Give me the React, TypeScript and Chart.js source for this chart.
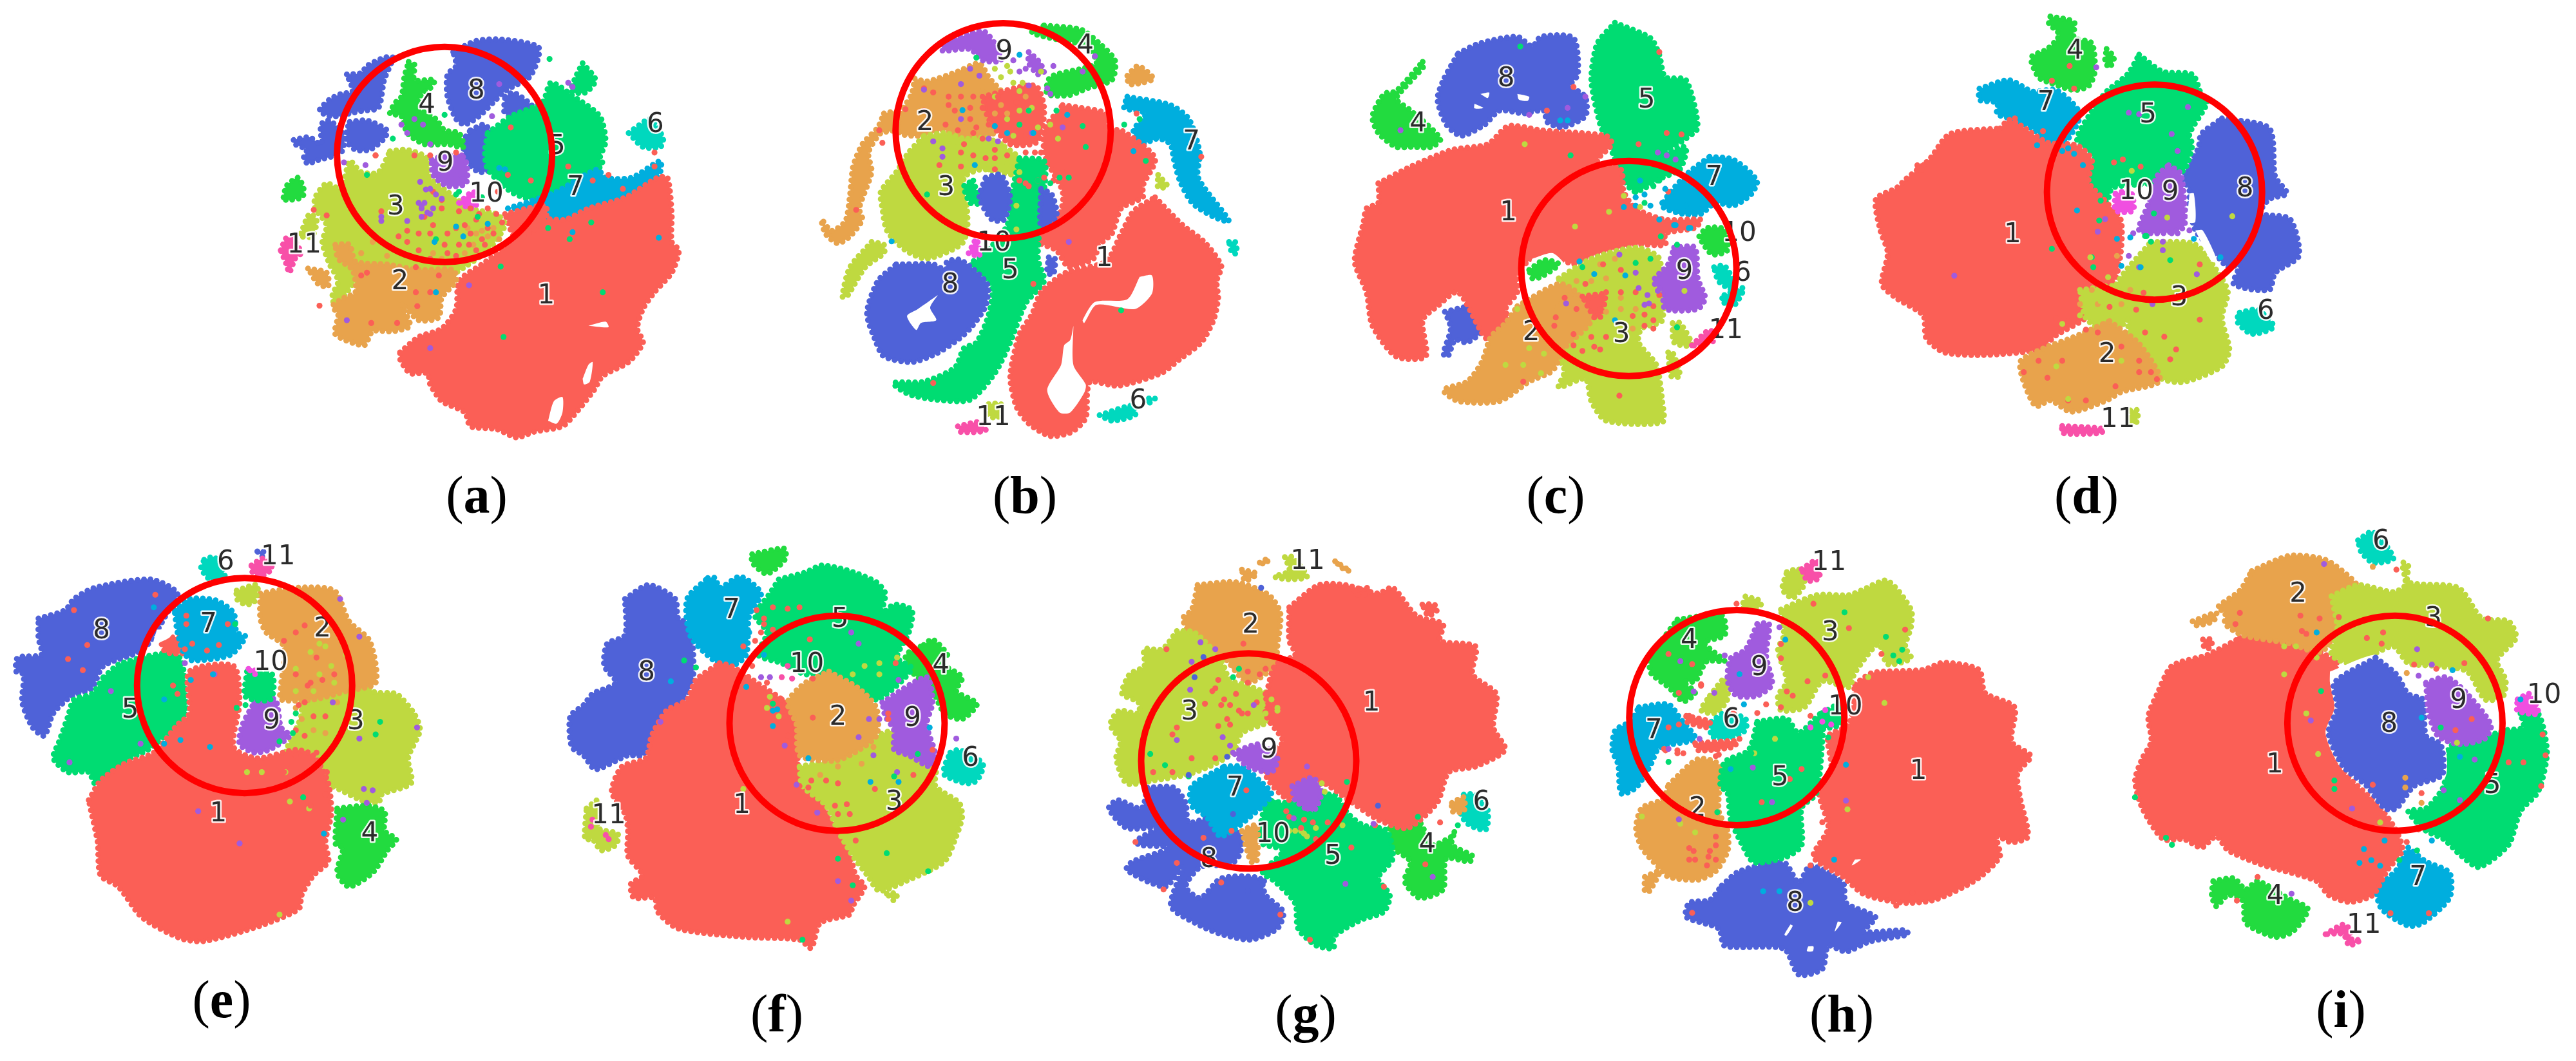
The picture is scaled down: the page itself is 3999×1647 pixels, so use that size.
import React, { useEffect, useRef } from "react";
import { Chart, registerables } from "chart.js";
Chart.register(...registerables);

// Cluster colours: index = cluster id, 0 = white gap
const clusterColors = ["#ffffff", "#FB5F56", "#E8A34C", "#BFD940", "#22DB3F", "#00DC72", "#00D8BE", "#00AEDE", "#4F62D8", "#A05BDE", "#F04FE0", "#F850A8"];
const captions = ["a", "b", "c", "d", "e", "f", "g", "h", "i"];

// ---------- panel a
const a1 = [495,1215,560,1160,640,1130,690,1060,700,960,780,900,900,810,930,780,1000,740,1070,740,1150,700,1280,660,1390,590,1425,590,1440,720,1440,820,1465,850,1440,930,1380,1000,1340,1060,1320,1130,1340,1180,1290,1250,1200,1300,1170,1350,1100,1440,1060,1480,960,1500,900,1520,830,1490,740,1480,720,1430,640,1390,600,1330,590,1290,530,1290,495,1240];
const a1b = [860,720,1000,690,1000,740,900,810];
const aHole1 = [1130,1310,1150,1260,1165,1250,1155,1320,1135,1330];
const aHole2 = [1010,1460,1030,1390,1060,1375,1060,1430,1040,1470];
const aHole3 = [1150,1120,1210,1105,1220,1125];
const a5 = [800,430,880,370,990,320,1020,250,1100,300,1190,370,1210,460,1190,520,1200,540,1170,570,1060,650,960,670,880,640,800,560,790,500];
const a5b = [1130,180,1175,240,1140,285,1090,280,1110,220];
const a7 = [870,700,960,670,1040,640,1180,560,1210,590,1300,590,1400,530,1400,570,1370,600,1290,650,1150,700,1080,740,1000,735,980,720,1000,680,900,700];
const a8a = [680,140,760,100,850,95,975,120,975,165,945,230,860,280,820,320,770,370,720,400,690,380,660,300,660,220,690,190];
const a8b = [860,300,890,285,960,340,930,370,860,360];
const a8c = [740,420,790,400,830,470,830,550,770,570,720,520,720,450];
const a8d = [310,220,360,215,380,190,440,160,470,160,440,240,420,340,370,350,320,360,280,370,250,370,215,350,250,310,290,290,330,280];
const a8e = [320,390,380,385,450,420,440,450,390,490,340,490,310,460,310,420];
const a8f = [125,455,180,445,220,470,220,400,250,385,300,440,290,500,200,530,175,540,160,520,170,490,130,470];
const a4 = [525,175,545,185,545,240,615,240,600,270,570,290,560,340,620,380,650,420,700,430,715,480,660,470,580,470,520,430,500,370,460,360,480,320,500,300,510,230];
const a4b = [90,660,100,620,140,590,160,630,155,660,100,670];
const a3 = [460,495,520,490,590,520,600,590,660,640,740,700,830,720,860,760,800,850,690,930,640,960,500,930,380,920,340,960,310,1000,270,1050,260,1010,280,960,250,900,225,820,240,760,200,700,200,660,240,610,290,630,320,530,360,570,420,570];
const a3b = [150,790,180,720,205,740,190,800,150,800];
const a2 = [270,830,320,830,340,890,450,900,560,920,680,920,690,960,640,1020,630,1090,560,1100,500,1040,530,1120,470,1140,400,1140,370,1190,270,1150,280,1080,260,1050,300,1020,340,1000,330,920,280,880];
const a2b = [175,915,240,930,245,980,210,970];
const a6 = [1290,430,1350,385,1370,380,1410,450,1400,480,1340,480];
const a9 = [605,525,660,510,720,520,725,610,660,620,610,580];
const a10 = [700,680,750,640,760,690,740,700];
const a11 = [80,850,100,805,125,810,150,860,130,880,110,930,100,900];
const aRed = [545,510,600,510,690,500,610,640,640,670,700,710,720,760,760,740,800,770,740,790,780,810,700,830,650,830,600,790,560,790,640,700,560,850,520,820,430,710,360,940,380,930,550,910,630,940,550,1000,600,1000,555,1050,485,1110,395,1110,215,1048,240,725,195,705,880,410,870,580,950,600,1080,550,1165,600,1220,580,1270,630,1380,500,1380,550,835,640,760,850,690,870,410,510,740,700,770,720,800,700,830,720,850,750,690,770,660,790,820,790,790,830,735,830,660,860,600,880,520,780,490,800,580,730,610,760];
const aOrange = [730,770,760,790,800,800,820,770,840,810,780,780,750,830,720,860,640,880,610,860,570,880,480,850,400,820,450,870,360,860,410,510];
const aPurple = [500,400,520,430,545,380,575,400,600,470,710,510,690,580,650,600,565,605,585,632,640,665,570,700,610,700,430,730,520,745,1080,250,1095,265,840,255,815,370,375,545,300,535,310,1100,735,975,600,1200,710,595,570,690,590,715,430,745,560,680,580,680,600,720,570,730,600,630,620,650];
const aGreen = [780,660,690,650,700,640,765,730,620,810,845,908,1200,1000,855,1160,1160,750,1010,770,1085,810,650,365,1015,165,470,450,380,580];
const aBlue = [690,765,715,800,800,755,620,1000,1395,805,1095,785,615,820,840,555,860,560];
const aLabels: [string, number, number][] = [["1",1003,1015],["2",495,965],["3",480,697],["4",588,333],["5",1040,480],["6",1383,402],["7",1105,627],["8",760,282],["9",652,540],["10",795,650],["11",162,832]];

// ---------- panel b
const b1 = [940,330,1000,340,1080,360,1085,420,1130,420,1240,520,1200,620,1200,660,1130,700,1100,790,1060,830,1040,880,960,910,920,850,860,820,860,780,930,720,940,640,885,520,880,420];
const b1b = [680,300,850,260,880,340,860,460,770,470,700,380];
const b1c = [1240,660,1330,760,1400,820,1455,905,1440,960,1445,1020,1430,1100,1390,1180,1320,1240,1260,1290,1120,1335,1030,1320,1020,1360,1015,1450,970,1500,900,1515,830,1470,790,1410,770,1300,800,1150,840,1080,870,1000,950,930,1080,890,1130,790,1170,710];
const bHole1 = [1190,945,1230,940,1230,1005,1175,1060,1050,1045,1010,1110,1005,1100,1045,1035,1150,1025];
const bHole2 = [975,1120,975,1260,1015,1330,1010,1360,965,1430,930,1430,890,1350,935,1260,945,1190,965,1170];
const b2 = [460,235,500,245,600,210,670,180,700,230,770,330,700,450,640,470,560,420,490,440,410,430,415,360,450,290];
const b2b = [360,360,400,355,390,420,350,430,310,500,320,570,280,700,290,740,250,800,210,825,170,790,158,740,190,780,235,745,250,650,260,550,290,470,340,410];
const b2c = [1150,225,1185,190,1235,235,1200,250,1155,255];
const b3 = [490,440,560,430,620,450,700,450,800,520,800,580,680,560,620,590,630,700,630,780,610,830,500,880,430,850,370,780,355,700,350,640,400,570,440,500];
const b3b = [320,820,360,830,360,860,300,910,240,1015,225,1015,250,910];
const b3c = [1250,580,1280,620,1250,625];
const b4 = [880,45,1000,60,1060,110,1110,170,1100,240,1020,270,960,295,890,290,900,230,1000,200,1050,180,1020,120,950,100,900,90,840,70];
const b5 = [800,520,880,530,880,640,870,720,860,880,880,960,820,1040,770,1180,720,1290,640,1385,530,1385,440,1365,390,1325,490,1320,590,1270,620,1200,660,1180,700,1080,710,980,640,900,680,870,760,760,780,620];
const b5b = [650,600,670,680,640,680,620,620];
const b6 = [1060,1440,1170,1405,1175,1440,1100,1460];
const b6b = [1220,1380,1240,1380,1215,1400];
const b6c = [1480,820,1500,820,1505,860,1490,860];
const b7 = [1150,300,1290,330,1350,380,1385,500,1380,590,1480,745,1430,730,1360,680,1320,600,1300,520,1290,470,1250,450,1190,470,1170,420,1210,360,1140,340];
const b8 = [400,900,520,900,560,920,565,890,610,885,695,970,690,1050,640,1130,600,1170,530,1220,450,1250,360,1230,335,1180,305,1075,340,960];
const bHole8 = [535,1010,510,1055,530,1100,480,1110,465,1135,435,1085,470,1060];
const b8b = [690,590,740,580,770,660,750,740,710,740,670,660];
const b8c = [870,630,905,650,920,730,870,765];
const b8d = [895,875,915,880,910,935,890,930];
const b9 = [550,110,680,65,720,110,740,170,680,170,640,130,550,135];
const b9b = [830,140,860,170,880,210,860,220,830,180];
const b10 = [635,860,660,810,670,870];
const b11 = [600,1480,670,1465,690,1495,610,1500];
const b3d = [700,1400,740,1400,730,1450,700,1440];
const bRed = [490,270,520,285,570,300,570,330,660,410,620,470,720,490,770,470,820,440,850,500,540,545,610,550,720,520,490,350,430,345,345,420,355,465,270,705,520,1325,845,970,1210,500,1390,515,1090,350,1180,360,650,300,730,300,790,320,1020,480,940,570,880,590,820,610,610,300,640,340,680,340,700,400,640,380,600,420,680,450,650,430,560,400,590,350,870,500,820,500,760,510,720,560,800,600,830,620,860,600,910,600,610,500,650,510,690,520];
const bPurple = [490,275,610,255,670,225,700,450,730,460,550,485,520,460,550,515,860,180,800,210,910,190,1005,210,1045,155,960,820,610,380,840,430,940,410,900,290,640,200,700,160,780,170,820,200,830,260,890,270];
const bGreen = [660,160,830,350,1005,405,1015,480,1210,530,920,350,800,400,500,650,1130,1065,1190,380,1140,400,840,560,860,600,900,610,930,590,960,590,790,620];
const bBlue = [615,348,720,405,760,430,845,430,655,545,1170,495,385,818,800,150,955,365,1315,545];
const bYellow = [740,230,770,210,800,280,870,210,900,400,925,450,790,690,790,775,800,570,830,350,720,300,760,380,800,350,700,400,670,490,630,520,600,480,570,470,780,440,740,470,700,560,760,540,840,340,860,410,780,250,720,200,760,190,810,250];
const bOrange = [740,330,760,360,560,330,610,360,640,420,700,430,720,360,680,280,620,410,820,300];
const bLabels: [string, number, number][] = [["1",1075,880],["2",493,395],["3",562,628],["4",1013,120],["5",770,925],["6",1185,1390],["7",1358,463],["8",575,975],["9",750,140],["10",717,825],["11",715,1450]];

// ---------- panel c
const c1 = [130,610,240,550,380,490,500,470,570,405,680,420,900,440,920,470,870,530,950,560,960,640,1000,700,1100,740,1220,740,1200,770,1100,790,1100,830,1000,830,850,870,800,900,700,870,650,880,600,930,600,1000,560,1060,570,1100,500,1170,400,1000,330,1050,280,1100,290,1230,190,1230,110,1120,90,1000,50,890,80,750,90,700,130,680];
const cGap = [650,880,720,860,770,920,720,970,630,970];
const c4b = [640,920,690,885,740,900,680,945,650,950];
const c2 = [600,1050,740,970,800,1000,850,1100,760,1200,720,1280,640,1320,540,1390,400,1390,350,1350,430,1320,480,1250,510,1160,560,1110];
const c3 = [740,950,850,880,1000,840,1080,880,1090,1100,1020,1130,1010,1180,1070,1260,1090,1390,1090,1465,900,1460,850,1390,830,1310,740,1340,760,1280,720,1200,770,1100];
const c3b = [1110,1215,1125,1215,1150,1300,1120,1300];
const c1d = [820,1015,895,1010,880,1090,855,1080];
const c4 = [280,175,285,190,200,290,190,310,240,350,340,450,310,480,240,480,190,480,130,430,110,370,150,290,190,280];
const c5 = [930,35,1050,90,1080,150,1100,230,1170,240,1210,410,1170,450,1100,500,1170,480,1150,560,1090,590,1000,640,960,600,910,470,880,400,850,240,870,110];
const c7 = [1250,515,1330,525,1410,600,1390,650,1330,690,1270,680,1220,720,1160,720,1090,690,1170,580];
const c8 = [400,145,470,110,600,85,650,120,680,85,790,90,805,220,780,260,830,300,830,370,750,410,700,390,690,350,620,360,540,350,490,400,410,440,360,400,330,310,350,240];
const c8b = [355,1070,440,1050,500,1060,490,1130,430,1180,390,1170,365,1230,350,1220,375,1130];
const cHole1 = [475,290,505,285,500,305];
const cHole2 = [455,325,485,340,455,342];
const cHole3 = [600,290,640,300,635,315,605,310];
const c9 = [1130,840,1200,840,1210,950,1235,1020,1210,1060,1100,1060,1090,1000,1060,960,1110,900];
const c4c = [1215,800,1240,770,1300,775,1310,850,1260,865,1230,830];
const c6 = [1265,910,1300,905,1330,960,1325,990,1280,960];
const c6b = [1300,1010,1365,985,1330,1050,1290,1030];
const c11 = [1190,1190,1250,1135,1270,1170,1210,1190];
const c3c = [1125,1110,1150,1110,1190,1190,1130,1180];
const cRed = [850,1020,880,1060,860,1090,830,970,820,1210,860,1195,880,1205,725,1120,790,1190,1030,1080,1060,1100,990,1085,1090,800,1080,1010,950,920,890,900,1110,640,1180,600,1010,470,1105,430,1155,435,1080,140,620,1320,945,1370,700,350,790,265,760,1020,800,1060,730,1090,900,1000,950,1000,1000,1000,1060,1050,1060,1130,1030,1120,790,1150,850,1160,900,1160];
const cOrange = [880,900,930,880,900,950,850,960,950,1060,1000,1060,780,1010,800,960,750,1040,900,1070,950,1020,990,1130,700,1180,720,1050];
const cPurple = [1010,985,1040,1010,1030,1045,1075,995,1000,930,945,865,770,340,830,300,640,365,205,420,1135,525,1105,510,765,1040,1045,1040,1075,500];
const cGreen = [1000,895,1050,880,1085,800,1140,830,1140,1125,1020,600,1060,620,990,590,1000,640,780,510,820,910,610,120,980,560,1010,560,1050,600,1080,600,1030,680];
const cBlue = [965,940,810,890,860,935,1015,600,1100,630,1130,760,1080,740,1180,770,1000,690,960,695,1130,640,745,385,770,385,930,1100,1000,660,1030,650,1050,690,1090,680,1150,710,1170,690,1210,700,1135,760,1185,770];
const cYellow = [910,712,795,765,1015,695,960,655,625,470,1165,995,600,1060,650,1100,690,1220,640,1200,560,1260,620,1260,680,1290];
const cLabels: [string, number, number][] = [["1",570,718],["2",647,1147],["3",952,1153],["4",265,400],["5",1037,313],["6",1362,935],["7",1265,590],["8",562,238],["9",1165,928],["10",1350,790],["11",1305,1140]];

// ---------- panel d
const d1 = [490,430,520,400,560,420,650,480,750,490,800,540,790,620,840,680,900,760,880,960,800,1020,790,1090,680,1160,620,1210,430,1230,300,1220,240,1170,230,1090,140,1030,90,980,110,870,85,790,70,680,140,640,170,610,250,540,320,450];
const d1b = [210,560,235,560,220,580];
const d3 = [1000,830,1150,840,1240,960,1260,1010,1240,1100,1265,1210,1240,1270,1110,1325,1030,1310,930,1180,920,1100,880,990];
const d3b = [760,1000,900,990,930,1090,860,1150,780,1100];
const d2 = [860,1110,960,1190,1030,1320,900,1360,850,1390,730,1430,660,1390,610,1410,565,1310,560,1250,650,1200,730,1170];
const d4 = [660,35,740,55,740,110,800,130,810,230,790,280,740,295,660,270,620,250,595,180,650,150,690,100,655,60];
const d4b = [850,150,875,180,860,215,845,195];
const d5 = [960,170,1040,230,1140,240,1170,310,1190,340,1130,450,1140,490,1110,580,1060,560,1010,620,870,640,850,690,790,620,790,580,810,540,750,470,800,370,850,300,920,240];
const d6 = [1300,1080,1360,1070,1415,1130,1340,1155,1290,1110];
const d7 = [420,290,520,260,600,300,680,295,760,380,710,480,660,500,610,440,540,400,480,380,480,340,420,330];
const d8 = [1240,395,1400,430,1420,600,1460,660,1400,680,1370,730,1470,750,1500,880,1420,940,1400,1000,1280,980,1300,910,1260,920,1200,850,1150,790,1130,700,1130,650,1110,600,1160,500,1170,450];
const d9 = [1060,560,1100,590,1115,720,1110,780,1040,800,960,790,990,700,1020,600];
const d10 = [880,660,930,650,940,720,880,720];
const d11 = [700,1480,840,1490,830,1505,700,1505];
const d3c = [930,1425,955,1425,950,1470,930,1470];
const dGap = [1130,660,1145,660,1150,760,1125,760];
const dGap2 = [1150,790,1175,790,1225,900,1205,900];
const dRed = [725,210,665,262,740,290,540,395,635,440,875,550,905,540,965,565,700,1250,650,1310,570,1290,620,1250,780,1390,880,1340,980,1150,1045,1165,1085,1210,1065,1245,960,1290,1020,1315,1165,1105,1165,910,975,1010,800,960,860,1060,950,1070,1000,1040,720,1390,720,1110,680,1100,780,1140,820,1150,900,1200,960,1250,1000,1290];
const dOrange = [820,1050,860,1000,900,1050,760,1050,800,1000,840,1120,885,880,930,1000];
const dPurple = [815,215,1070,450,1090,510,1125,355,925,375,960,380,1040,860,925,880,1155,945,1005,1050,845,750,820,795,335,950,940,800,1040,830,1090,800,1130,790,1070,800,960,920];
const dGreen = [665,855,830,685,825,755,800,885,805,920,985,810,1065,895,1010,730,980,810,1000,830];
const dBlue = [750,720,885,820,930,815,900,915,965,920,615,490,700,510,1145,820,1235,885,720,500,740,520,770,560];
const dYellow = [935,580,1055,745,795,885,855,955,720,1385,1275,740,700,1120,760,1090,800,1060,830,1040,850,1090,900,1250,680,1270];
const dLabels: [string, number, number][] = [["1",532,808],["2",852,1230],["3",1095,1030],["4",743,160],["5",990,385],["6",1388,1077],["7",645,340],["8",1318,645],["9",1065,658],["10",950,655],["11",888,1458]];

// ---------- panel e
const e1 = [300,950,340,880,420,820,520,780,600,680,640,640,640,490,790,470,810,600,790,760,870,800,1000,770,1060,790,1110,890,1120,1000,1100,1100,1110,1170,1060,1220,1020,1290,1010,1340,880,1400,690,1455,610,1445,480,1370,400,1260,340,1220,330,1100,310,1000];
const e1b = [540,370,640,370,640,420,560,420];
const e3 = [1210,440,1260,560,1340,570,1400,640,1420,700,1380,800,1390,890,1290,930,1280,960,1220,950,1120,900,1000,880,960,800,1020,640,1000,500];
const e2 = [880,210,1000,190,1130,200,1180,310,1250,380,1270,530,1170,560,1060,590,950,590,950,540,960,400,900,350,880,300];
const e3b = [800,200,870,180,860,240,830,250,800,230];
const e4 = [1140,980,1240,970,1300,990,1300,1060,1340,1090,1310,1130,1260,1210,1180,1260,1140,1210,1160,1120,1135,1110];
const e5 = [350,510,410,460,600,430,630,630,600,680,500,770,420,810,350,860,320,890,300,850,230,850,180,800,200,740,230,650,250,590,310,570];
const e6 = [690,90,725,80,760,150,710,160,680,120];
const e7 = [590,270,640,230,730,235,790,280,800,350,830,365,780,430,650,450,620,420,600,350];
const e8 = [130,300,220,270,250,230,320,190,510,160,600,210,560,290,510,380,470,420,350,470,310,550,240,580,180,640,150,720,110,690,75,600,80,500,55,490,60,440,140,430,130,370];
const e9 = [860,600,930,590,950,690,980,720,910,770,860,780,810,750,820,680];
const e5b = [835,490,920,500,915,590,830,580];
const e10 = [840,480,870,490,860,500];
const e11 = [850,110,890,85,920,120,880,150,850,130];
const e8b = [870,60,890,60,890,80];
const eGap = [800,440,860,440,830,500,800,470];
const eGap2 = [530,340,590,340,570,370,520,390];
const eRed = [630,290,630,320,770,320,650,390,625,410,700,415,740,395,585,540,600,570,525,215,250,270,295,395,230,445,280,485,610,715,1000,350,1030,325,1070,440,1090,520,1040,540,960,380,1010,610,1030,720,1000,790,960,850,1105,850,1050,970,1100,930,1000,500,1050,530,1130,500,1060,650,1030,600,1100,650,1000,700,1070,780];
const eOrange = [1020,660,1060,700,1100,710,1140,600,1000,620];
const ePurple = [625,460,725,500,375,560,235,815,475,748,810,1105,670,990,1150,230,1215,365,1125,600,1215,730,1260,915,1230,910,1240,960,1160,1020,1410,690];
const eBlue = [645,520,720,500,555,748,610,735,710,760,555,590,1095,1070,520,260];
const eGreen = [795,320,1285,670,1270,715,1025,940,985,670,945,740,800,620,830,610,990,710,1000,640];
const eYellow = [885,850,980,955,1045,980,965,850,835,850,945,1360,1000,480,1050,420,1100,400,1080,500,1120,470,1170,430,1000,560,1060,560,1130,530,1080,390];
const eLabels: [string, number, number][] = [["1",738,1000],["2",1090,340],["3",1203,672],["4",1250,1072],["5",440,630],["6",763,100],["7",705,322],["8",343,347],["9",918,670],["10",915,458],["11",940,82]];

// ---------- panel f
const f1 = [560,460,600,470,700,540,780,600,820,700,830,850,900,950,960,1060,1000,1140,1020,1220,1050,1260,1010,1330,1000,1360,900,1390,870,1480,830,1450,640,1440,420,1410,350,1350,340,1300,270,1300,260,1250,300,1220,250,1150,250,1060,240,1000,195,920,230,830,310,800,330,720,380,630,450,590,480,520];
const f3 = [830,830,1000,790,1090,720,1180,700,1290,830,1290,900,1370,960,1380,1010,1360,1080,1320,1170,1190,1240,1100,1275,1060,1220,1010,1150,960,1060,920,970,840,900];
const f3b = [1125,1285,1160,1285,1150,1310];
const f2 = [930,490,1030,550,1090,620,1090,720,1000,790,940,810,830,790,820,680,790,600,850,530];
const f4 = [1250,395,1280,375,1330,430,1310,460,1380,510,1360,560,1430,605,1380,660,1320,640,1280,560,1200,480,1190,430];
const f4b = [670,70,780,50,780,90,720,140,670,100];
const f5 = [760,160,850,135,905,110,1000,130,1090,170,1120,210,1110,280,1150,250,1210,270,1200,350,1160,440,1210,480,1100,590,1060,580,1010,540,930,490,850,500,770,460,690,430,720,350,680,290,730,210];
const f6 = [1340,780,1370,770,1450,820,1430,880,1390,890,1320,860,1320,830];
const f7 = [520,155,545,155,560,190,630,150,700,210,660,290,650,430,600,470,540,450,460,360,450,230];
const f8 = [240,230,320,180,410,230,420,300,460,320,470,520,430,600,370,640,340,690,300,790,250,790,140,840,100,790,60,760,55,650,100,610,130,570,210,530,170,470,180,390,240,360];
const f9 = [1110,600,1260,510,1280,600,1260,680,1290,790,1270,830,1200,790,1150,770,1150,700,1120,650];
const f11 = [110,980,150,950,150,1050,215,1070,210,1110,160,1130,130,1090,105,1090];
const fRed = [740,260,685,270,710,320,640,400,790,265,830,260,865,375,875,515,875,655,1130,640,1130,660,770,590,780,650,860,905,950,970,990,965,1000,1000,1020,1095,1085,910,1215,860,1280,770,1155,460,960,1000,920,1010,670,470,720,530,790,720,830,900,870,880,920,880,960,890,850,950,710,300,740,340,700,350,680,380];
const fOrange = [960,830,1040,820,900,860,1080,760];
const fPurple = [700,510,730,510,1030,390,1005,350,1065,660,1100,660,1030,725,1080,790,1160,850,780,755,820,895,890,995,1005,1310,960,1240,360,670,1165,520,1360,730];
const fPink = [770,510,790,470,130,1020,185,1090,175,1075,125,1045,805,515];
const fBlue = [860,800,1070,885,1165,885,395,525,1270,690,650,545,740,630,755,625,740,685,660,350,710,430];
const fGreen = [1125,1140,1265,1205,960,1160,440,450,480,475,740,605,1150,865,1230,785,1010,1255,840,1450,1150,540,1180,500];
const fYellow = [730,580,720,620,760,650,1010,500,1100,460,1160,440,790,1385,640,910,1050,470,1100,500];
const fLabels: [string, number, number][] = [["1",635,972],["2",960,655],["3",1150,960],["4",1308,470],["5",967,305],["6",1408,802],["7",600,273],["8",313,495],["9",1212,660],["10",855,465],["11",185,1008]];

// ---------- panel g
const g1 = [700,260,800,180,890,180,1000,210,1050,190,1130,290,1220,320,1210,380,1330,400,1320,500,1400,570,1390,690,1430,770,1330,830,1240,850,1200,960,1100,1050,1000,1020,900,950,800,880,750,900,700,950,620,860,650,770,680,740,620,640,650,470,720,430,700,380];
const g1b = [1150,250,1190,250,1200,270,1170,290];
const g1c = [920,200,970,190,970,210,930,215];
const g2 = [390,180,520,170,630,215,670,280,660,400,650,470,560,530,480,440,370,360,340,300,370,270];
const g2b = [540,125,590,140,550,165];
const g2c = [600,100,630,85,620,105];
const g2d = [855,95,905,130,880,120];
const g3 = [320,345,380,350,470,450,500,520,560,540,680,600,630,670,540,710,510,780,430,830,350,860,240,880,150,890,115,800,130,740,95,680,125,630,190,640,190,600,135,570,160,500,210,470,210,410,270,410];
const g4 = [1040,1050,1140,1030,1180,1110,1250,1080,1260,1060,1250,1110,1320,1150,1310,1170,1230,1160,1220,1270,1140,1300,1090,1240,1110,1170,1050,1120];
const g5 = [620,950,700,960,850,930,900,1000,950,1040,1030,1060,1050,1160,1000,1230,1040,1290,1020,1350,940,1380,850,1440,850,1480,790,1470,730,1410,720,1320,650,1240,610,1210,680,1130,600,1100];
const g6 = [1290,930,1330,930,1370,980,1365,1055,1310,1040,1280,1000];
const g2e = [1250,960,1290,940,1290,990,1250,990];
const g8 = [220,905,310,905,350,960,360,1030,450,1010,540,1080,530,1150,500,1180,400,1190,350,1260,400,1300,470,1230,600,1230,620,1290,680,1350,660,1410,570,1450,470,1430,400,1400,300,1330,340,1190,280,1260,150,1200,170,1170,300,1120,190,1110,190,1090,250,1050,150,1050,90,980,120,950,200,980];
const g7 = [480,830,540,830,600,880,640,930,590,990,470,1080,420,1010,370,970,370,900];
const g9 = [510,780,600,750,660,800,640,850,560,830];
const g9b = [710,900,780,870,810,920,780,990,720,950];
const g2f = [540,1060,590,1040,590,1170,570,1170];
const g11 = [685,80,710,80,760,150,700,160,650,150,700,130];
const gRed = [285,410,460,520,480,590,500,610,415,605,460,685,490,660,320,690,305,715,450,800,370,800,240,850,305,850,555,915,560,530,600,500,560,490,620,480,545,390,690,990,700,1010,750,1020,780,1030,830,1030,990,1040,1020,1260,180,1100,320,1175,275,1270,470,1245,410,1085,505,1060,770,1450,670,1360,910,1120,1210,1030,1160,1180,440,560,470,610,520,570,530,630,500,680,540,640,590,600,620,570,560,640,450,550,740,1050,790,1090];
const gOrange = [510,470,540,480,580,500,610,470];
const gPurple = [365,555,320,735,475,725,500,755,580,610,450,410,400,385,370,455,760,830,985,1035,890,1250,1185,1225,715,1015,760,980];
const gGreen = [510,510,280,825,230,785,530,480,895,885,1135,1010,360,865,650,960,1270,1040,770,1000];
const gBlue = [410,438,605,190,380,510,360,860,490,795,1000,970,510,1000,430,1065,615,1240,560,1275];
const gYellow = [740,1060,760,1080,720,1060,810,890,820,920,660,630,610,610,560,660,700,1060,880,1040,600,560,640,590,660,620,620,640,750,1070,790,1050];
const gLabels: [string, number, number][] = [["1",978,605],["2",570,325],["3",363,637],["4",1167,1112],["5",848,1153],["6",1350,960],["7",517,908],["8",428,1165],["9",632,772],["10",645,1075],["11",762,97]];

// ---------- panel h
const h1 = [870,520,930,480,1100,470,1170,445,1290,470,1310,550,1410,600,1400,720,1465,770,1420,830,1430,920,1455,1050,1400,1070,1350,1050,1360,1120,1280,1200,1140,1270,1030,1280,900,1250,830,1190,730,1120,780,1020,750,900,790,810,780,700,850,660];
const hGap = [870,1130,890,1130,860,1150];
const h2 = [240,870,340,780,410,800,410,960,440,1030,440,1100,400,1170,340,1200,240,1190,210,1160,150,1090,130,1020,150,950,220,920];
const h2b = [160,1190,210,1170,175,1240,160,1240];
const h3 = [620,260,740,210,850,210,900,190,980,160,1060,260,1060,320,1040,390,1060,430,980,450,950,380,870,480,850,530,760,510,700,600,620,610,610,560,640,510,610,400,630,350];
const h3b = [640,130,680,120,700,170,660,220,625,190];
const h4 = [270,295,420,280,430,350,360,375,430,440,370,440,330,510,290,510,330,550,290,580,240,530,180,480,180,420,230,350];
const h5 = [540,650,640,640,680,690,760,620,760,720,740,900,690,950,690,1080,640,1120,530,1140,490,1080,450,990,440,900,415,870,430,790,510,750];
const h6 = [385,650,430,620,500,640,500,680,440,710,385,700];
const h7 = [140,600,240,590,280,640,330,710,210,740,180,800,130,880,80,900,70,800,50,750,60,680,110,650];
const h8 = [420,1220,480,1170,630,1140,680,1210,720,1150,830,1210,840,1280,940,1330,900,1380,1040,1375,1050,1390,920,1415,840,1450,780,1430,760,1510,680,1530,630,1440,430,1430,410,1370,300,1330,310,1280,380,1270];
const hGap8a = [652,1355,660,1360,638,1395,632,1390];
const hGap8b = [712,1432,730,1432,728,1448,708,1448];
const hGap8c = [812,1345,825,1348,802,1380];
const h9 = [540,310,580,310,570,420,590,520,540,560,470,560,440,510,450,430,500,400];
const h3c = [380,560,430,500,440,570,400,620,350,610];
const h3d = [500,215,550,230,550,250,490,255];
const h5b = [760,620,820,590,820,660,760,670];
const h11 = [690,120,740,90,750,150,710,160];
const hStreakA = [300,630,380,650,370,670,300,650];
const hStreakB = [330,725,470,718,460,738,340,750];
const hRed = [470,240,240,415,320,450,350,520,275,550,350,525,275,660,240,670,310,630,360,650,225,745,270,750,400,745,410,765,480,710,460,620,570,590,540,620,620,600,640,545,660,560,710,510,770,490,720,630,850,325,620,380,620,430,730,240,650,850,690,815,555,930,325,1100,375,1120,400,1050,1010,1290,1065,1245,320,1315,960,415,1040,330,720,1150,780,990,760,1000,310,1090,330,1130,380,1100,400,1130,370,1150,400,1080,310,1130,230,750,290,760,400,770,270,760];
const hPurple = [615,322,275,990,525,810,590,930,395,550,325,545,280,440,430,420,720,670,840,925,345,710,240,745];
const hGreen = [975,355,1030,400,1000,420,835,270,405,965,780,705,550,660,520,760,240,790,1020,440];
const hBlue = [635,365,480,485,800,1130,840,800,560,1240,615,1240,495,590,450,815];
const hMagenta = [770,610,760,650,790,660,720,670];
const hYellow = [600,710,280,1005,330,1035,150,980,915,495,970,585,845,955,530,760,720,1280];
const hLabels: [string, number, number][] = [["1",1085,825],["2",338,955],["3",787,342],["4",310,370],["5",617,847],["6",452,645],["7",190,683],["8",668,1283],["9",547,465],["10",838,600],["11",783,98]];

// ---------- panel i
const i1 = [430,370,520,360,600,390,700,420,760,460,740,520,760,600,740,700,750,800,800,870,900,970,960,1060,980,1130,930,1200,880,1290,800,1315,730,1290,690,1240,500,1180,390,1130,350,1080,300,1120,240,1090,170,1090,100,980,75,880,100,800,130,740,120,650,150,570,200,470,320,430];
const i1b = [305,375,335,375,330,405,310,405];
const i2 = [470,130,600,75,720,90,800,150,830,190,790,260,780,340,700,420,600,390,440,360,380,320,380,280,355,260,430,200];
const i2b = [270,310,350,280,340,310,280,325];
const i3 = [740,220,830,180,950,205,990,180,980,100,1000,110,1000,170,1170,190,1250,300,1340,310,1365,370,1300,450,1330,520,1320,580,1260,590,1200,490,1090,470,1000,460,950,400,860,440,800,460,740,430,760,340];
const i4 = [340,1240,410,1230,450,1270,490,1240,590,1300,660,1340,610,1420,550,1440,450,1390,440,1310,390,1290,350,1330,335,1290];
const i5 = [1380,640,1440,640,1470,780,1440,920,1380,990,1340,1110,1240,1190,1180,1150,1120,1090,1060,1060,1000,990,1060,980,1120,900,1140,760,1270,720,1330,700,1390,690];
const i6 = [830,20,880,-10,950,85,880,100,840,60];
const i7 = [1000,1120,1060,1170,1140,1210,1140,1300,1050,1390,1000,1400,910,1340,895,1270,960,1200];
const iGap = [735,490,890,430,960,490,1000,570,1060,580,1080,710,1125,760,1125,870,1040,910,960,1010,905,970,860,900,770,830,720,710,750,620,735,530];
const i8 = [890,440,960,500,1000,570,1050,590,1060,720,1110,750,1115,860,1020,900,960,980,920,980,860,900,780,830,730,710,760,620,750,530];
const i9 = [1060,530,1130,510,1200,570,1280,680,1260,730,1170,750,1100,720,1070,640];
const i10 = [1370,590,1410,570,1440,640,1370,630];
const i11 = [720,1430,780,1395,800,1410,810,1450,840,1450,800,1470,780,1430];
const iRed = [635,290,700,300,640,345,655,355,765,295,915,350,860,370,910,390,1035,1055,1190,460,1095,480,1020,465,995,1100,1045,925,1390,815,1340,815,1465,790,1450,900,1455,715,1270,300,960,125,430,280,415,320,490,1225,420,1310,1215,660,1160,700,1070,1355,940,1355,880,895];
const iPurple = [1030,410,1080,465,1035,505,1250,725,810,980,670,665,1120,915,1175,950,605,1285,715,105,1225,805];
const iGreen = [705,560,750,880,750,910,180,1085,200,1110,75,940,1235,1180,970,1165,1030,1130,1110,690];
const iBlue = [1045,655,690,350,1175,795,835,1175,875,1165,905,1185,850,1125,920,1095,1150,485,1380,590,1080,1095];
const iYellow = [655,640,580,500,695,785,905,1030,1165,745,690,440,620,400,580,400];
const iOrange = [995,495,990,870,990,905,880,115,1045,960];
const iLabels: [string, number, number][] = [["1",548,825],["2",627,215],["3",1085,303],["4",550,1297],["5",1285,900],["6",908,25],["7",1033,1230],["8",935,680],["9",1170,595],["10",1460,577],["11",850,1400]];

type Layer = [number, number[]];
type Panel = { crop: number[]; circle: number[]; caption: number[]; shapes: Layer[]; dots: Layer[]; labels: [string, number, number][] };

const panels: Panel[] = [
  { crop: [400,20,700,680], circle: [650,507], caption: [740,769],
    shapes: [[8,a8a],[8,a8b],[8,a8c],[8,a8d],[8,a8e],[8,a8f],[5,a5],[5,a5b],[7,a7],[1,a1],[1,a1b],[0,aHole1],[0,aHole2],[0,aHole3],[3,a3],[3,a3b],[2,a2],[2,a2b],[4,a4],[4,a4b],[6,a6],[9,a9],[10,a10],[11,a11]],
    dots: [[2,aOrange],[1,aRed],[9,aPurple],[5,aGreen],[7,aBlue]], labels: aLabels },
  { crop: [1200,20,750,680], circle: [747,422], caption: [1591,769],
    shapes: [[4,b4],[7,b7],[2,b2],[2,b2b],[2,b2c],[3,b3],[3,b3b],[3,b3c],[1,b1],[1,b1b],[5,b5],[5,b5b],[1,b1c],[0,bHole1],[0,bHole2],[8,b8],[0,bHole8],[8,b8b],[8,b8c],[8,b8d],[9,b9],[9,b9b],[10,b10],[6,b6],[6,b6b],[6,b6c],[11,b11],[3,b3d]],
    dots: [[3,bYellow],[2,bOrange],[1,bRed],[9,bPurple],[5,bGreen],[7,bBlue]], labels: bLabels },
  { crop: [2080,20,720,680], circle: [977,915], caption: [2415,769],
    shapes: [[4,c4],[8,c8],[0,cHole1],[0,cHole2],[0,cHole3],[8,c8b],[5,c5],[7,c7],[1,c1],[0,cGap],[4,c4b],[3,c3],[3,c3b],[2,c2],[1,c1d],[9,c9],[4,c4c],[6,c6],[6,c6b],[3,c3c],[11,c11]],
    dots: [[2,cOrange],[1,cRed],[9,cPurple],[5,cGreen],[7,cBlue],[3,cYellow]], labels: cLabels },
  { crop: [2880,10,720,690], circle: [1012,655], caption: [3239,769],
    shapes: [[4,d4],[4,d4b],[7,d7],[8,d8],[5,d5],[1,d1],[1,d1b],[3,d3],[3,d3b],[2,d2],[9,d9],[10,d10],[6,d6],[11,d11],[3,d3c],[0,dGap],[0,dGap2]],
    dots: [[2,dOrange],[1,dRed],[9,dPurple],[5,dGreen],[7,dBlue],[3,dYellow]], labels: dLabels },
  { crop: [0,830,720,680], circle: [827,540], caption: [344,1552],
    shapes: [[8,e8],[5,e5],[3,e3],[2,e2],[3,e3b],[1,e1],[1,e1b],[7,e7],[4,e4],[6,e6],[0,eGap],[0,eGap2],[9,e9],[5,e5b],[10,e10],[8,e8b],[11,e11]],
    dots: [[2,eOrange],[3,eYellow],[1,eRed],[9,ePurple],[7,eBlue],[5,eGreen]], labels: eLabels },
  { crop: [860,830,720,680], circle: [957,675], caption: [1206,1574],
    shapes: [[8,f8],[7,f7],[4,f4],[4,f4b],[5,f5],[1,f1],[3,f3],[3,f3b],[2,f2],[9,f9],[6,f6],[3,f11]],
    dots: [[2,fOrange],[3,fYellow],[1,fRed],[9,fPurple],[11,fPink],[7,fBlue],[5,fGreen]], labels: fLabels },
  { crop: [1680,830,720,680], circle: [563,810], caption: [2027,1574],
    shapes: [[8,g8],[4,g4],[5,g5],[2,g2],[2,g2b],[2,g2c],[2,g2d],[3,g3],[1,g1],[1,g1b],[1,g1c],[7,g7],[9,g9],[9,g9b],[2,g2f],[6,g6],[2,g2e],[3,g11]],
    dots: [[2,gOrange],[3,gYellow],[1,gRed],[9,gPurple],[5,gGreen],[8,gBlue]], labels: gLabels },
  { crop: [2480,830,720,700], circle: [471,636], caption: [2859,1574],
    shapes: [[8,h8],[0,hGap8a],[0,hGap8b],[0,hGap8c],[1,h1],[0,hGap],[2,h2],[2,h2b],[3,h3],[3,h3b],[3,h3c],[3,h3d],[4,h4],[5,h5],[5,h5b],[6,h6],[7,h7],[1,hStreakA],[1,hStreakB],[9,h9],[11,h11]],
    dots: [[3,hYellow],[1,hRed],[9,hPurple],[5,hGreen],[7,hBlue],[10,hMagenta]], labels: hLabels },
  { crop: [3280,830,719,680], circle: [955,675], caption: [3634,1567],
    shapes: [[4,i4],[7,i7],[5,i5],[1,i1],[1,i1b],[2,i2],[2,i2b],[3,i3],[0,iGap],[8,i8],[9,i9],[6,i6],[10,i10],[11,i11]],
    dots: [[3,iYellow],[2,iOrange],[1,iRed],[9,iPurple],[5,iGreen],[7,iBlue]], labels: iLabels },
];

const VIEW = 1568;
const MARGIN = 40;

const toPoints = (flat: number[]) => {
  const out: { x: number; y: number }[] = [];
  for (let k = 0; k < flat.length; k += 2) out.push({ x: flat[k], y: flat[k + 1] });
  return out;
};

function PanelChart({ panel, index }: { panel: Panel; index: number }) {
  const ref = useRef<HTMLCanvasElement>(null);
  const [cx, cy, cw, ch] = panel.crop;
  useEffect(() => {
    const canvas = ref.current!;
    const ux = VIEW / cw;
    const uy = VIEW / ch;
    const datasets: any[] = [];
    // Chart.js paints the first dataset last, so the stack is built top-first.
    datasets.push({
      label: "circle", data: [{ x: panel.circle[0], y: panel.circle[1] }],
      pointRadius: 167, pointBorderWidth: 10, pointBorderColor: "#FF0000", pointBackgroundColor: "rgba(0,0,0,0)", showLine: false, clip: false,
    });
    [...panel.dots].reverse().forEach(([id, flat]) => {
      datasets.push({
        label: "dots " + id, data: toPoints(flat), showLine: false,
        pointRadius: 4.6, pointBorderWidth: 0, pointBackgroundColor: clusterColors[id],
      });
    });
    [...panel.shapes].reverse().forEach(([id, flat]) => {
      const pts = toPoints(flat);
      pts.push(pts[0]);
      datasets.push({
        label: "cluster " + id, data: pts, showLine: true, fill: "shape", tension: 0.25,
        backgroundColor: clusterColors[id], borderColor: clusterColors[id],
        borderWidth: id === 0 ? 0 : 9, borderDash: id === 0 ? [] : [0, 10], borderCapStyle: "round", borderJoinStyle: "round",
        pointRadius: 0,
      });
    });
    const labelPlugin = {
      id: "clusterLabels",
      beforeDatasetDraw(chart: any, args: any) {
        if (args.index !== 0) return;
        const c = chart.ctx;
        c.save();
        c.font = "42px 'DejaVu Sans'";
        c.textAlign = "center";
        c.textBaseline = "middle";
        c.lineJoin = "round";
        panel.labels.forEach(([t, x, y]) => {
          const px = chart.scales.x.getPixelForValue(x);
          const py = chart.scales.y.getPixelForValue(y);
          c.lineWidth = 5;
          c.strokeStyle = "rgba(255,255,255,0.9)";
          c.strokeText(t, px, py);
          c.fillStyle = "#2b2b2b";
          c.fillText(t, px, py);
        });
        c.restore();
      },
    };
    const chart = new Chart(canvas, {
      type: "scatter",
      data: { datasets },
      plugins: [labelPlugin],
      options: {
        animation: false, responsive: false, maintainAspectRatio: false,
        layout: { padding: 0, autoPadding: false },
        plugins: { legend: { display: false }, tooltip: { enabled: false }, title: { display: false } },
        scales: {
          x: { type: "linear", display: false, min: -MARGIN * ux, max: VIEW + MARGIN * ux },
          y: { type: "linear", display: false, reverse: true, min: -MARGIN * uy, max: VIEW + MARGIN * uy },
        },
      },
    } as any);
    return () => chart.destroy();
  }, []);
  return (
    <canvas
      ref={ref}
      width={cw + 2 * MARGIN}
      height={ch + 2 * MARGIN}
      data-panel={captions[index]}
      style={{ position: "absolute", left: cx - MARGIN, top: cy - MARGIN, width: cw + 2 * MARGIN, height: ch + 2 * MARGIN }}
    />
  );
}

export default function App() {
  return (
    <div style={{ position: "absolute", left: 0, top: 0, width: 3999, height: 1647, overflow: "hidden", background: "#fff" }}>
      {panels.map((p, i) => <PanelChart key={i} panel={p} index={i} />)}
      {panels.map((p, i) => (
        <div key={"c" + i} style={{ position: "absolute", left: p.caption[0] - 100, width: 200, top: p.caption[1] - 50, height: 100, lineHeight: "100px", textAlign: "center", fontFamily: "'Liberation Serif', serif", fontSize: 82, color: "#000" }}>
          (<b>{captions[i]}</b>)
        </div>
      ))}
    </div>
  );
}
